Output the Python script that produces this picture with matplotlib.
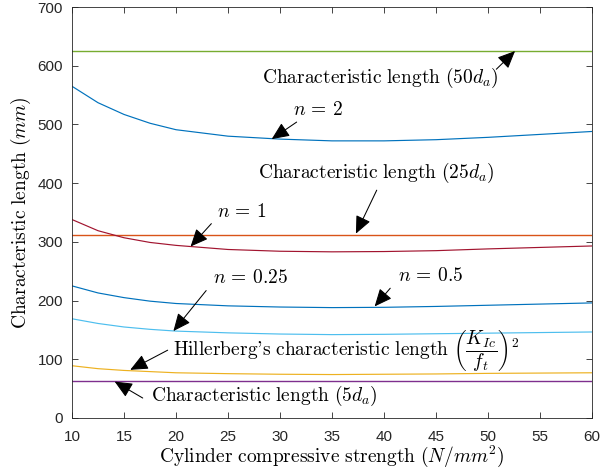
import matplotlib
matplotlib.use('Agg')
import matplotlib.pyplot as plt
import numpy as np

plt.rcParams['mathtext.fontset'] = 'cm'
plt.rcParams['font.family'] = ['Liberation Sans', 'DejaVu Sans']

# compressive strength (N/mm2)
fc = [10, 12.5, 15, 17.5, 20, 25, 30, 35, 40, 45, 50, 55, 60]

# characteristic lengths (mm)
l_n2 = [565, 537, 517, 502, 491, 480, 475, 472, 472, 474, 478, 483, 488]
l_n1 = [338, 319, 307, 299, 294, 287, 284, 283, 283.5, 285, 288, 290.5, 293]
l_n05 = [225, 213, 205, 199, 195, 191, 189, 188, 188.5, 190, 192, 194, 196]
l_n025 = [169, 161, 155, 151, 148, 145, 143, 142, 142.5, 143.5, 144.5, 145.5, 146.5]
l_hill = [89, 84, 81, 79, 77, 75.5, 74.5, 74, 74.5, 75, 76, 76.5, 77]

l_50da = 625
l_25da = 312.5
l_5da = 62.5

fig = plt.figure(figsize=(6.02, 4.73), dpi=100)
ax = fig.add_axes([0.1196, 0.1163, 0.8638, 0.8689])

lw = 0.85
hw = 1.0
ax.axhline(l_50da, color='#77AC30', lw=hw, snap=True)
ax.plot(fc, l_n2, color='#0072BD', lw=lw)
ax.axhline(l_25da, color='#D95319', lw=hw, snap=True)
ax.plot(fc, l_n1, color='#A2142F', lw=lw)
ax.plot(fc, l_n05, color='#0072BD', lw=lw)
ax.plot(fc, l_n025, color='#4DBEEE', lw=lw)
ax.plot(fc, l_hill, color='#EDB120', lw=lw)
ax.axhline(l_5da, color='#7E2F8E', lw=hw, snap=True)

ax.set_xlim(10, 60)
ax.set_ylim(0, 700)
ax.set_xticks(np.arange(10, 61, 5))
ax.set_yticks(np.arange(0, 701, 100))
ax.tick_params(direction='in', top=True, right=True, labelsize=11,
               colors='#262626', length=4, width=0.6)
ax.tick_params(axis='x', pad=8.5)
ax.tick_params(axis='y', pad=6.5)
for s in ax.spines.values():
    s.set_color('#262626')
    s.set_linewidth(0.6)

ax.set_xlabel(r'$\mathrm{Cylinder\ compressive\ strength\ }(N/mm^2)$', fontsize=14, labelpad=0)
ax.set_ylabel(r'$\mathrm{Characteristic\ length\ }(mm)$', fontsize=14, labelpad=3)

arrow = dict(arrowstyle='-|>,head_length=0.9,head_width=0.4', color='black',
             lw=0.75, mutation_scale=12, shrinkA=0, shrinkB=0)
fs = 14

def note(txt, xy, xytext, tail):
    ax.annotate('', xy=xy, xytext=tail, arrowprops=arrow)
    ax.text(xytext[0], xytext[1], txt, fontsize=fs, va='center', ha='left')

note(r'$\mathrm{Characteristic\ length\ }(50d_a)$', (52.6, 625), (28.3, 579), (50.8, 594))
note(r'$n\,=\,2$', (29.2, 475), (31.25, 524), (31.6, 504))
note(r'$\mathrm{Characteristic\ length\ }(25d_a)$', (37.3, 314), (27.9, 417), (39.3, 388))
note(r'$n\,=\,1$', (21.4, 292), (23.9, 351), (23.4, 331))
note(r'$n\,=\,0.5$', (39.1, 190), (41.35, 242), (40.6, 221))
note(r'$n\,=\,0.25$', (19.75, 148), (23.6, 238), (22.9, 217))
note(r"$\mathrm{Hillerberg\text{'}s\ characteristic\ length\ }\left(\dfrac{K_{Ic}}{f_t}\right)^2$",
     (15.6, 82), (19.75, 113), (19.2, 115.5))
note(r'$\mathrm{Characteristic\ length\ }(5d_a)$', (14.1, 62), (17.6, 38), (16.8, 34))

fig.savefig('out.png', dpi=100)
